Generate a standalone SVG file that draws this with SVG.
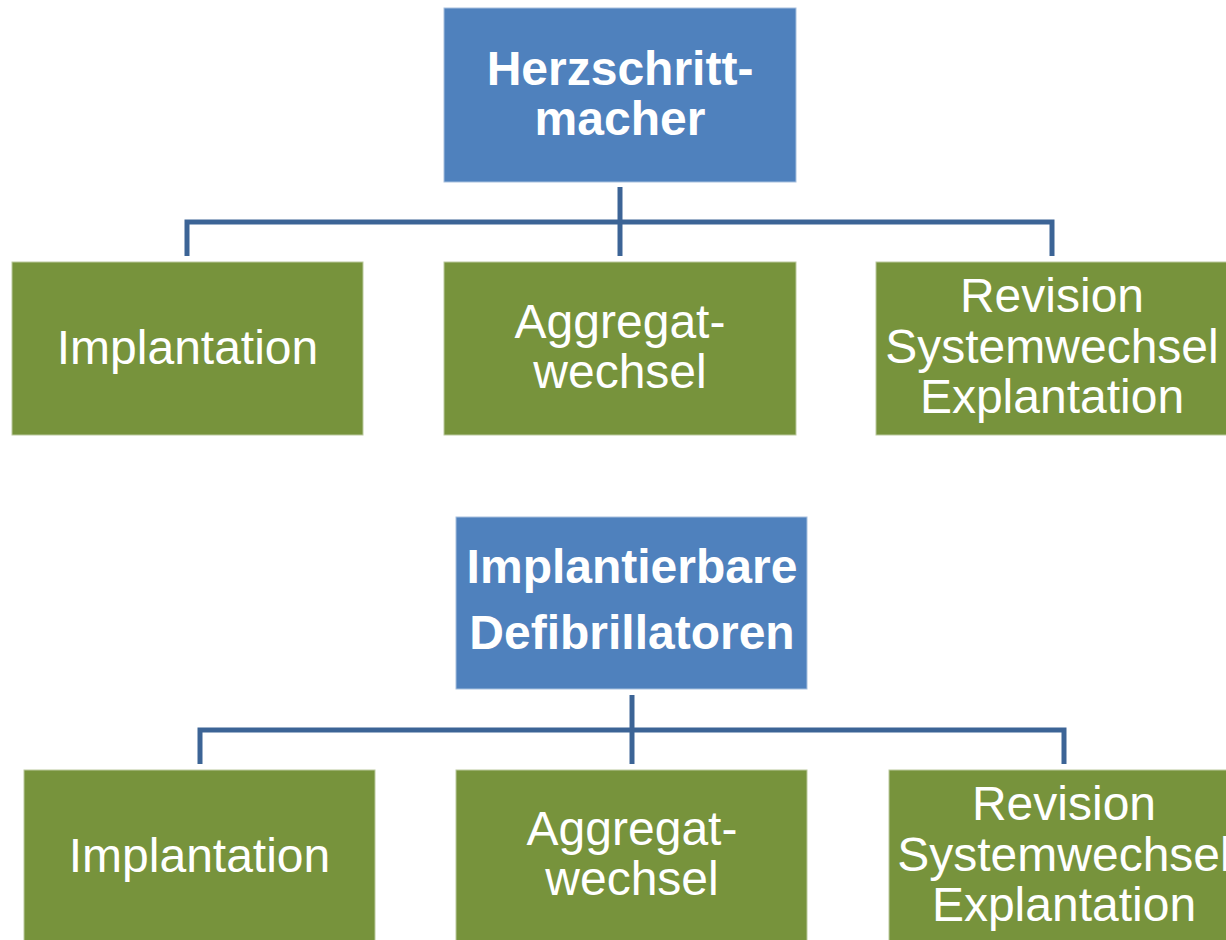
<svg xmlns="http://www.w3.org/2000/svg" width="1226" height="940" viewBox="0 0 1226 940">
<style>
.bg{fill:#ffffff}
.parent{fill:#4F81BD;stroke:#A7C0DE;stroke-width:1}
.child{fill:#77933C;stroke:#BBC99E;stroke-width:1}
.pt{font-family:"Liberation Sans",Arial,sans-serif;font-size:48px;font-weight:bold;fill:#ffffff;text-anchor:middle}
.ct{font-family:"Liberation Sans",Arial,sans-serif;font-size:48px;fill:#ffffff;text-anchor:middle}
.conn{fill:none;stroke:#3C6496;stroke-width:5;stroke-linejoin:miter}
</style>
<rect class="bg" x="0" y="0" width="1226" height="940"/>
<g id="connectors">
<path class="conn" d="M620 187 V256"/>
<path class="conn" d="M187 256 V222 H1052 V256"/>
<path class="conn" d="M632 695 V764"/>
<path class="conn" d="M200 764 V730 H1064 V764"/>
</g>
<g id="herzschrittmacher">
<rect class="parent" x="444" y="8" width="352" height="174"/>
<text class="pt" x="620" y="85">Herzschritt-</text>
<text class="pt" x="620" y="135">macher</text>
</g>
<g id="hsm-implantation">
<rect class="child" x="12" y="262" width="351" height="173"/>
<text class="ct" x="187.5" y="364">Implantation</text>
</g>
<g id="hsm-aggregatwechsel">
<rect class="child" x="444" y="262" width="352" height="173"/>
<text class="ct" x="620" y="338">Aggregat-</text>
<text class="ct" x="620" y="388">wechsel</text>
</g>
<g id="hsm-revision">
<rect class="child" x="876" y="262" width="352" height="173"/>
<text class="ct" x="1052" y="312">Revision</text>
<text class="ct" x="1052" y="363">Systemwechsel</text>
<text class="ct" x="1052" y="413">Explantation</text>
</g>
<g id="icd">
<rect class="parent" x="456" y="517" width="351" height="172"/>
<text class="pt" x="632" y="583">Implantierbare</text>
<text class="pt" x="632" y="649">Defibrillatoren</text>
</g>
<g id="icd-implantation">
<rect class="child" x="24" y="770" width="351" height="173"/>
<text class="ct" x="199.5" y="872">Implantation</text>
</g>
<g id="icd-aggregatwechsel">
<rect class="child" x="456" y="770" width="351" height="173"/>
<text class="ct" x="632" y="845">Aggregat-</text>
<text class="ct" x="632" y="895">wechsel</text>
</g>
<g id="icd-revision">
<rect class="child" x="889" y="770" width="352" height="173"/>
<text class="ct" x="1064" y="820">Revision</text>
<text class="ct" x="1064" y="871">Systemwechsel</text>
<text class="ct" x="1064" y="921">Explantation</text>
</g>
</svg>
